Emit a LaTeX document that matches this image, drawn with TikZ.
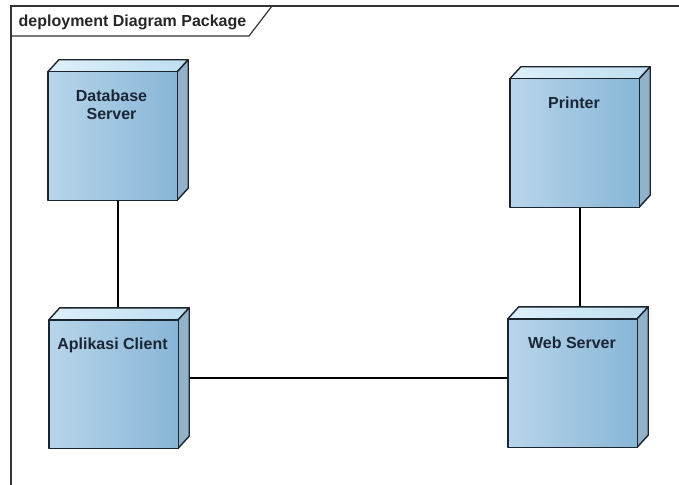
\documentclass[tikz,border=0pt]{standalone}
\usepackage{fontspec}
\setmainfont{Liberation Sans}
\definecolor{nodeL}{RGB}{184,213,234}
\definecolor{nodeR}{RGB}{136,182,215}
\definecolor{topL}{RGB}{222,240,250}
\definecolor{topR}{RGB}{190,222,240}
\definecolor{sideC}{RGB}{146,178,202}
\definecolor{edgeC}{RGB}{28,36,46}
\definecolor{txtC}{RGB}{26,38,54}
\tikzset{
  frameline/.style={draw=black!80, line width=1.2pt},
  deplnode/.style={minimum width=140pt, minimum height=140pt, inner sep=0pt, draw=none},
  conn/.style={draw=black, line width=1.2pt},
  facefront/.style={left color=nodeL, right color=nodeR, draw=edgeC, line width=1.4pt, line join=round},
  facetop/.style={left color=topL, right color=topR, draw=edgeC, line width=1.4pt, line join=round},
  faceside/.style={fill=sideC, draw=edgeC, line width=1.4pt, line join=round},
  nlabel/.style={font=\fontsize{16}{18}\selectfont\bfseries, text=txtC, inner sep=0pt},
  flabel/.style={font=\fontsize{16}{18}\selectfont\bfseries, text=black!85, inner sep=0pt}
}
\newcommand{\deplbox}[1]{%
  \path[facetop] ([shift={(0,12)}]#1.north west) -- ([shift={(11,0)}]#1.north west)
     -- (#1.north east) -- ([shift={(-11,12)}]#1.north east) -- cycle;
  \path[faceside] ([shift={(-11,12)}]#1.north east) -- (#1.north east)
     -- ([shift={(0,-12)}]#1.south east) -- ([shift={(-11,0)}]#1.south east) -- cycle;
  \path[facefront] (#1.south west) rectangle ([shift={(-11,12)}]#1.north east);
}
\begin{document}
\begin{tikzpicture}[x=1pt,y=-1pt]
\useasboundingbox (0,0) rectangle (679,484);
% frame
\draw[frameline] (11,490) -- (11,6) -- (685,6);
\draw[frameline] (11,36) -- (249,36) -- (272,6);
\node[flabel, anchor=base west] (framelabel) at (18.5,27) {deployment Diagram Package};
% nodes
\node[deplnode] (db) at (118,130) {};
\node[deplnode] (printer) at (580,137) {};
\node[deplnode] (client) at (119,378) {};
\node[deplnode] (web) at (578,377) {};
% connectors
\draw[conn] (db.south) -- (db.south |- client.north);
\draw[conn] (printer.south) -- (printer.south |- web.north);
\draw[conn] (client.east) -- (client.east -| web.west);
% boxes
\deplbox{db}
\deplbox{printer}
\deplbox{client}
\deplbox{web}
% labels
\node[nlabel, align=center, anchor=north] (dblabel) at (111.5,89.5) {Database\\Server};
\node[nlabel, anchor=base] (printerlabel) at (574,108) {Printer};
\node[nlabel, anchor=base] (clientlabel) at (112.5,349) {Aplikasi Client};
\node[nlabel, anchor=base] (weblabel) at (572,348) {Web Server};
\end{tikzpicture}
\end{document}
